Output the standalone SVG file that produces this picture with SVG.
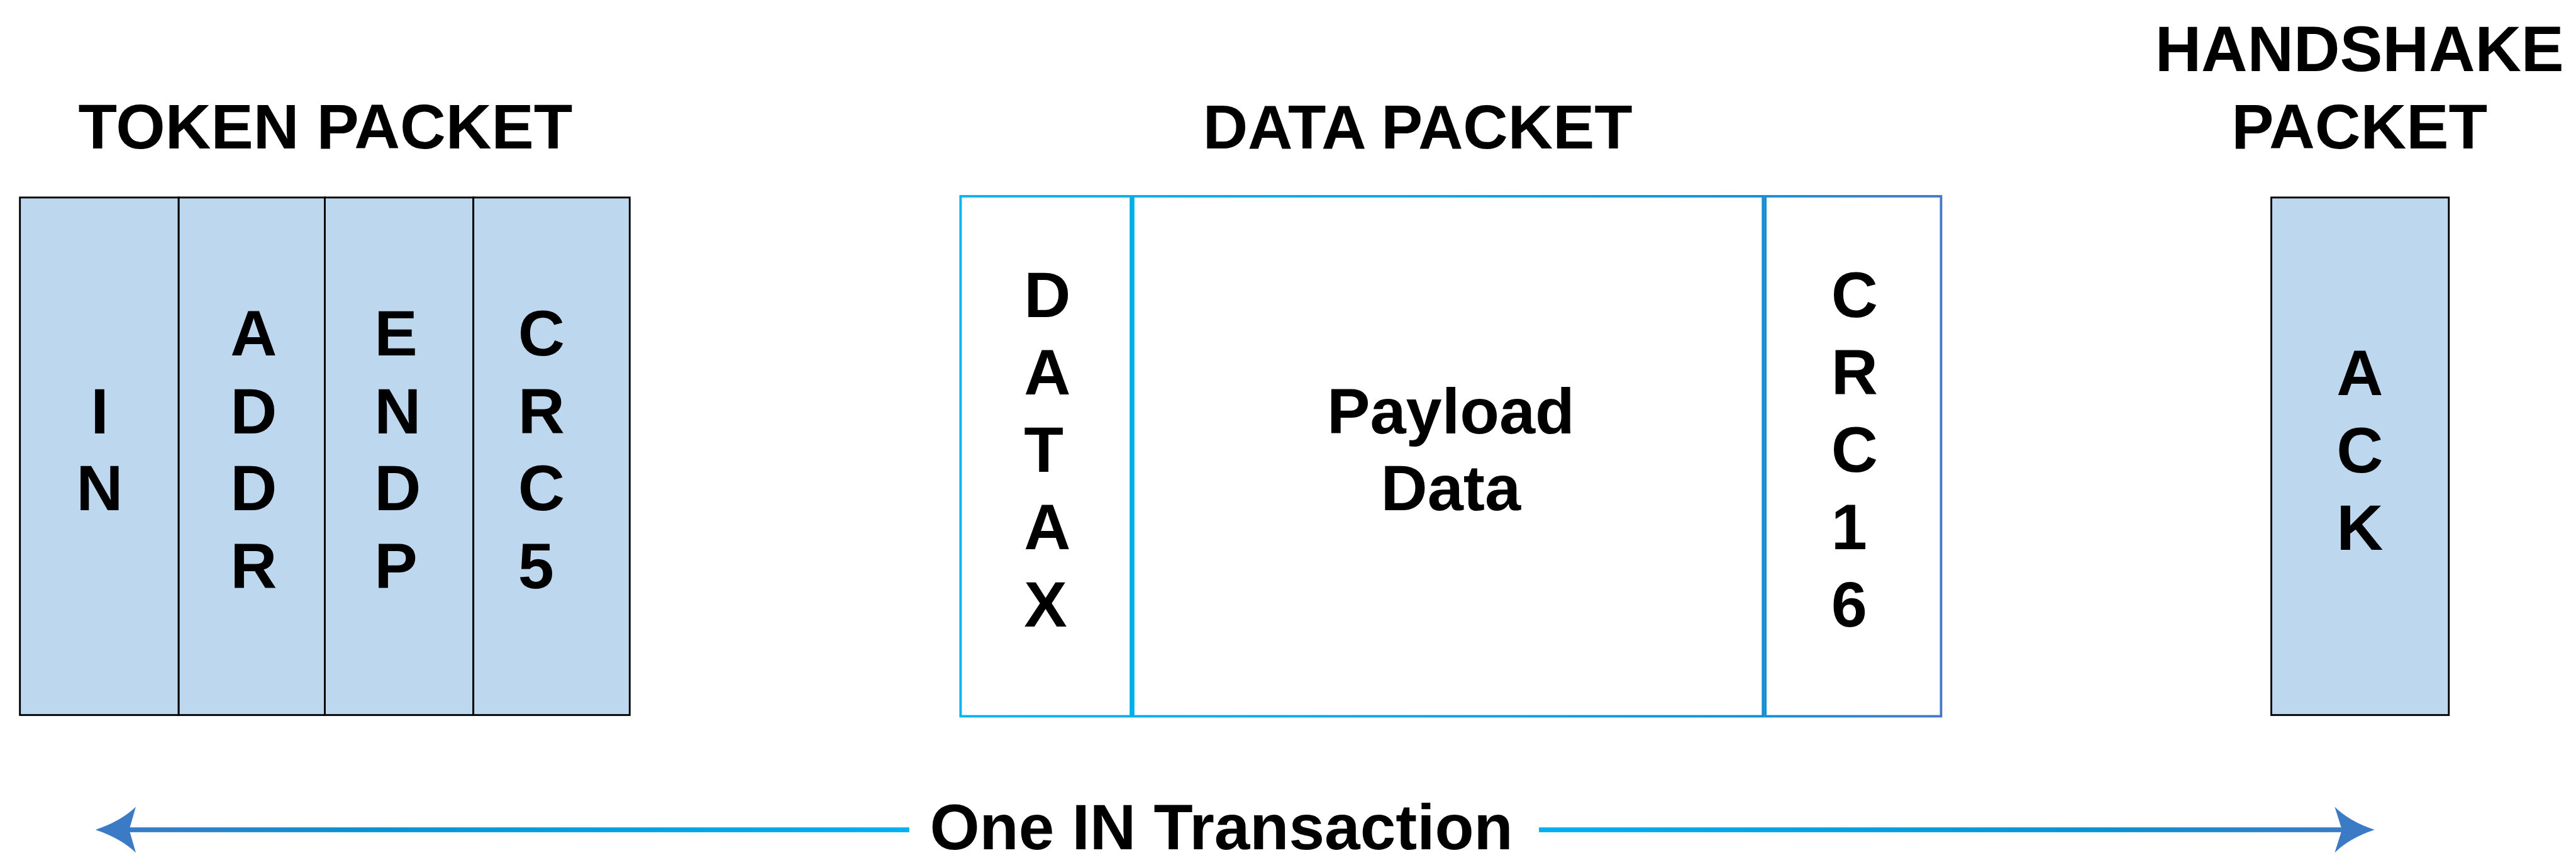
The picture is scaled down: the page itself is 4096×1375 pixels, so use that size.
<svg xmlns="http://www.w3.org/2000/svg" width="4096" height="1375" viewBox="0 0 4096 1375">
  <style>
    text { font-family: "Liberation Sans", Arial, sans-serif; font-weight: bold; fill: #000; }
    .title { font-size: 105px; }
    .cell-text { font-size: 107px; }
    .label { font-size: 106px; }
    .token { fill: #BDD7EE; stroke: #000; stroke-width: 3; }
    .data { fill: #fff; stroke: url(#dataStroke); stroke-width: 4; }
    .head { fill: #3B7BC6; }
  </style>
  <defs>
    <linearGradient id="dataStroke" gradientUnits="userSpaceOnUse" x1="1589" y1="0" x2="3217" y2="0">
      <stop offset="0" stop-color="#00B4F0"/>
      <stop offset="0.55" stop-color="#00A2E2"/>
      <stop offset="0.8" stop-color="#1090D4"/>
      <stop offset="1" stop-color="#4478C4"/>
    </linearGradient>
    <linearGradient id="shaftLeft" gradientUnits="userSpaceOnUse" x1="214" y1="0" x2="1506" y2="0">
      <stop offset="0" stop-color="#3A7BC6"/>
      <stop offset="0.3" stop-color="#0892D2"/>
      <stop offset="1" stop-color="#00B0F0"/>
    </linearGradient>
    <linearGradient id="shaftRight" gradientUnits="userSpaceOnUse" x1="2549" y1="0" x2="3881" y2="0">
      <stop offset="0" stop-color="#00B0F0"/>
      <stop offset="0.7" stop-color="#0892D2"/>
      <stop offset="1" stop-color="#3A7BC6"/>
    </linearGradient>
  </defs>

  <g transform="scale(0.96)">
    <!-- packet headings -->
    <g id="titles">
      <text class="title" x="539" y="246" text-anchor="middle">TOKEN PACKET</text>
      <text class="title" x="2348" y="246" text-anchor="middle" style="font-size:103px">DATA PACKET</text>
      <text class="title" x="3908" y="118" text-anchor="middle" style="font-size:106px">HANDSHAKE</text>
      <text class="title" x="3908" y="246" text-anchor="middle">PACKET</text>
    </g>

    <!-- token packet: four fields -->
    <g id="token-packet">
      <g id="token-in">
        <rect class="token" x="33" y="327" width="263" height="857"/>
        <text class="cell-text" text-anchor="middle"><tspan x="165" y="718">I</tspan><tspan x="165" y="845">N</tspan></text>
      </g>
      <g id="token-addr">
        <rect class="token" x="296" y="327" width="242" height="857"/>
        <text class="cell-text"><tspan x="381.5" y="589">A</tspan><tspan x="381.5" y="718">D</tspan><tspan x="381.5" y="845">D</tspan><tspan x="381.5" y="974">R</tspan></text>
      </g>
      <g id="token-endp">
        <rect class="token" x="538" y="327" width="246" height="857"/>
        <text class="cell-text"><tspan x="620" y="589">E</tspan><tspan x="620" y="718">N</tspan><tspan x="620" y="845">D</tspan><tspan x="620" y="974">P</tspan></text>
      </g>
      <g id="token-crc5">
        <rect class="token" x="784" y="327" width="259" height="857"/>
        <text class="cell-text"><tspan x="858" y="589">C</tspan><tspan x="858" y="718">R</tspan><tspan x="858" y="845">C</tspan><tspan x="858" y="974">5</tspan></text>
      </g>
    </g>

    <!-- data packet: PID, payload, CRC -->
    <g id="data-packet">
      <g id="data-pid">
        <rect class="data" x="1591" y="325" width="282" height="861"/>
        <text class="cell-text"><tspan x="1696" y="525">D</tspan><tspan x="1696" y="653">A</tspan><tspan x="1696" y="781">T</tspan><tspan x="1696" y="909">A</tspan><tspan x="1696" y="1037">X</tspan></text>
      </g>
      <g id="data-payload">
        <rect class="data" x="1877" y="325" width="1043" height="861"/>
        <text class="cell-text" text-anchor="middle"><tspan x="2403" y="718">Payload</tspan><tspan x="2403" y="845">Data</tspan></text>
      </g>
      <g id="data-crc16">
        <rect class="data" x="2924" y="325" width="291" height="861"/>
        <text class="cell-text"><tspan x="3033" y="525">C</tspan><tspan x="3033" y="653">R</tspan><tspan x="3033" y="781">C</tspan><tspan x="3033" y="909">1</tspan><tspan x="3033" y="1037">6</tspan></text>
      </g>
    </g>

    <!-- handshake packet -->
    <g id="handshake-packet">
      <rect class="token" x="3762" y="327" width="294" height="857"/>
      <text class="cell-text"><tspan x="3870" y="654">A</tspan><tspan x="3870" y="782">C</tspan><tspan x="3870" y="910">K</tspan></text>
    </g>

    <!-- transaction span arrows -->
    <g id="connectors">
      <rect x="212" y="1370" width="1294" height="8" fill="url(#shaftLeft)"/>
      <path class="head" d="M158,1374 Q200,1360 225,1336 L214,1374 L225,1412 Q200,1388 158,1374 Z"/>
      <rect x="2549" y="1370" width="1334" height="8" fill="url(#shaftRight)"/>
      <path class="head" d="M3933,1374 Q3891,1360 3867,1336 L3879,1374 L3867,1412 Q3891,1388 3933,1374 Z"/>
    </g>

    <text id="transaction-label" class="label" x="2023" y="1406" text-anchor="middle">One IN Transaction</text>
  </g>
</svg>
